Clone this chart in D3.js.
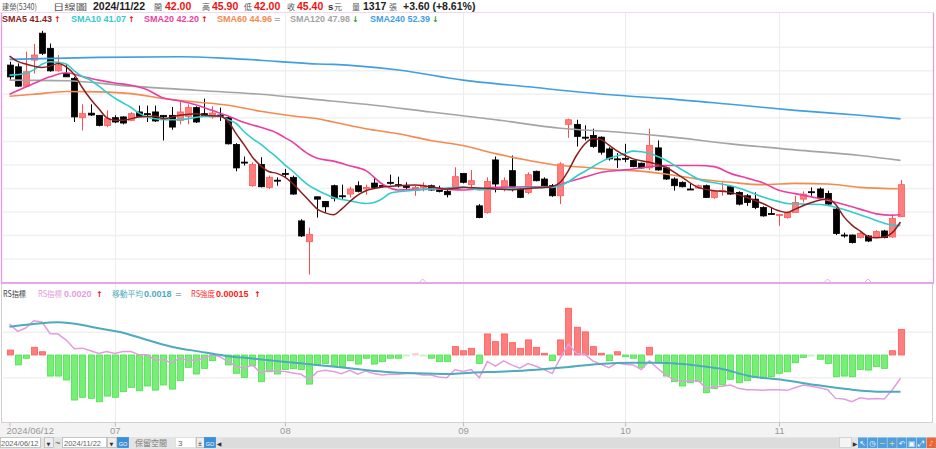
<!DOCTYPE html>
<html><head><meta charset="utf-8">
<script src="https://cdn.jsdelivr.net/npm/d3@7"></script>
<style>html,body{margin:0;padding:0;background:#fff;}svg{display:block;}</style>
</head><body>
<svg id="c" width="936" height="449"></svg>
<script>
// ---------- DATA ----------
const opens  = [58.11,57.93,55.87,58.64,61.50,59.89,57.50,57.22,56.69,52.52,53.00,52.77,51.70,52.52,52.60,52.24,53.13,52.95,53.13,52.77,52.77,52.24,52.66,53.59,52.95,52.60,52.80,52.52,49.67,47.80,45.29,47.54,45.11,45.88,46.60,46.18,41.55,39.34,44.11,43.62,45.29,44.22,44.40,45.29,44.94,45.57,45.30,45.65,45.40,45.22,44.83,45.11,45.29,44.94,44.69,44.94,46.60,45.40,43.15,42.44,48.03,44.94,46.89,44.94,44.58,46.82,46.00,45.29,44.22,51.81,51.81,50.45,50.63,50.45,49.20,48.14,48.20,47.96,47.68,47.18,49.31,47.18,46.00,45.65,44.94,45.04,45.29,44.04,44.76,45.18,44.58,44.22,43.86,42.97,42.33,42.19,41.90,42.44,43.86,44.65,44.94,44.47,42.80,40.05,40.05,39.77,39.95,39.77,40.48,39.84,42.00];
const highs  = [58.47,58.29,59.54,60.35,61.75,60.40,59.18,58.10,56.86,53.94,53.94,52.80,53.30,52.77,52.66,53.10,53.80,53.80,53.80,52.80,53.66,54.20,53.94,53.73,54.55,53.73,53.59,52.66,49.81,48.39,47.78,48.32,46.36,46.18,47.07,46.36,41.73,40.84,44.11,43.62,45.40,45.40,45.18,45.75,45.40,46.18,45.50,46.46,46.25,45.65,45.29,45.65,45.40,45.29,44.83,47.25,46.60,46.96,43.33,46.18,48.39,46.18,48.50,45.11,46.71,46.89,46.18,45.47,47.78,52.41,52.30,51.70,51.35,50.53,49.38,48.75,49.74,48.03,47.75,51.35,50.10,47.32,46.18,45.75,45.54,45.40,45.40,44.80,45.65,45.30,44.69,44.40,44.58,43.10,42.97,42.27,42.55,44.22,44.69,45.11,45.11,44.76,42.97,40.30,40.10,40.35,40.05,40.55,40.60,42.27,45.90];
const lows   = [56.51,55.80,55.80,57.22,59.18,57.40,57.40,56.86,52.06,51.17,52.70,51.60,51.52,51.95,51.81,52.17,52.60,52.06,52.06,50.10,51.24,51.81,51.81,51.95,52.60,52.41,52.17,49.67,46.82,47.43,45.18,45.11,44.94,45.29,46.18,44.33,39.84,35.85,41.90,42.44,43.62,43.86,44.04,44.58,44.33,45.04,45.10,45.40,45.11,44.94,44.22,44.69,44.76,44.58,44.04,44.83,45.54,45.11,41.83,42.33,44.58,44.69,44.69,43.97,44.40,45.75,45.11,44.11,43.33,50.38,49.46,50.10,49.31,48.60,47.96,47.18,47.78,47.25,47.10,46.96,46.89,45.90,44.76,45.11,44.83,44.97,43.97,43.90,44.22,44.33,43.20,43.15,42.80,42.00,42.19,41.02,41.80,42.44,43.50,44.22,43.97,43.15,40.05,39.77,39.15,39.70,39.30,39.70,39.70,39.77,42.00];
const closes = [56.86,55.87,57.40,59.18,59.36,57.50,58.11,56.86,52.60,52.95,52.80,51.70,52.41,52.06,51.95,52.95,52.66,52.90,52.17,52.60,51.52,53.13,53.59,52.06,52.66,53.02,52.66,49.74,47.18,47.78,47.54,45.18,46.18,45.88,46.60,44.40,39.95,40.12,43.86,43.05,43.97,44.22,44.94,44.69,45.11,45.11,45.30,45.65,45.29,45.22,45.11,45.29,44.83,44.69,44.33,46.25,45.65,45.82,41.90,45.75,45.47,45.82,45.11,44.04,46.46,45.82,45.29,44.22,47.60,52.30,50.53,50.45,49.46,48.85,48.14,48.10,48.14,47.32,47.18,49.56,46.96,46.00,45.29,45.18,44.94,45.29,44.04,44.69,44.80,44.40,43.33,43.50,42.97,42.08,42.33,42.22,42.44,43.50,44.40,44.65,44.04,43.33,40.20,40.05,39.24,40.20,39.41,40.41,39.77,41.80,45.40];

const xTickIdx    = [0,13,34,56,76,95];
const xTickLabels = ["2024/06/12","07","08","09","10","11"];
const priceGrid   = [37.5,40,42.5,45,47.5,50,52.5,55,57.5,60];

// moving averages: [candle index, value]
const sma5 = [[0,59.07],[1,58.5],[2,58.22],[3,58.0],[4,57.86],[5,58.0],[6,58.29],[7,57.93],[8,57.1],[9,55.7],[10,54.5],[11,53.5],[12,52.52],[13,52.24],[14,52.24],[16,52.6],[18,52.66],[19,52.41],[21,52.77],[23,52.95],[24,52.77],[26,52.66],[27,52.1],[28,50.8],[29,49.6],[30,48.32],[31,47.43],[32,46.8],[33,46.6],[34,46.2],[35,45.5],[36,44.6],[37,43.69],[38,42.8],[39,42.4],[40,42.2],[41,42.8],[42,43.6],[43,44.3],[44,44.76],[46,45.15],[48,45.29],[50,45.36],[52,45.18],[54,44.95],[56,45.1],[58,45.05],[60,44.95],[62,44.85],[64,45.0],[66,45.1],[67,45.2],[68,45.65],[69,46.9],[70,48.5],[71,49.7],[72,50.28],[73,50.2],[74,49.6],[75,49.0],[76,48.5],[77,48.14],[79,47.78],[81,47.25],[83,46.2],[85,45.11],[87,44.76],[89,44.58],[91,44.04],[93,43.4],[95,42.62],[96,42.44],[97,42.8],[99,43.5],[101,43.87],[102,43.3],[103,42.0],[104,41.1],[105,40.48],[106,39.9],[107,39.77],[108,39.84],[109,40.3],[110,41.43]];
const sma10 = [[0,57.04],[2,57.22],[3,57.6],[4,58.2],[5,58.47],[6,58.4],[7,58.22],[8,57.5],[9,56.9],[10,56.5],[11,55.9],[12,55.2],[13,54.6],[14,54.1],[15,53.6],[16,53.0],[17,52.6],[18,52.4],[19,52.3],[21,52.3],[23,52.55],[24,52.66],[26,52.66],[27,52.3],[28,51.9],[29,51.0],[30,50.3],[31,49.7],[32,49.0],[33,48.3],[34,47.5],[35,46.8],[36,46.0],[37,45.3],[38,44.8],[39,44.4],[40,44.04],[42,43.69],[44,43.4],[45,43.5],[46,43.9],[47,44.5],[48,44.65],[50,44.8],[52,44.94],[54,45.05],[56,45.18],[58,44.85],[60,44.94],[62,45.0],[65,45.11],[67,45.11],[69,45.7],[70,46.3],[71,46.8],[72,47.3],[73,47.8],[74,48.2],[75,48.45],[76,48.7],[77,48.96],[78,48.9],[79,48.74],[80,48.4],[81,48.03],[82,47.5],[83,47.0],[84,46.5],[85,46.0],[87,45.6],[89,45.29],[91,44.76],[93,44.1],[95,43.6],[96,43.4],[98,43.33],[100,43.3],[101,43.2],[102,43.0],[104,42.5],[106,41.9],[108,41.3],[109,41.1],[110,41.07]];
const sma20 = [[0,55.01],[3,56.15],[5,56.86],[7,57.29],[9,56.9],[11,56.51],[13,56.2],[15,55.97],[17,55.5],[19,54.6],[21,54.3],[23,53.9],[25,53.3],[27,52.7],[29,52.0],[31,51.5],[33,50.9],[34,50.4],[35,49.9],[36,49.2],[37,48.6],[38,48.2],[40,47.9],[42,47.4],[44,46.89],[46,45.47],[48,44.83],[50,44.9],[52,44.94],[54,44.9],[56,44.83],[58,44.95],[60,45.11],[62,45.15],[64,45.18],[67,45.18],[69,45.7],[71,46.2],[73,46.7],[75,46.9],[77,47.07],[79,47.3],[81,47.43],[83,47.43],[85,47.43],[87,47.32],[89,46.6],[91,46.1],[93,45.6],[95,44.8],[97,44.45],[99,44.1],[101,43.75],[103,43.3],[105,42.8],[107,42.3],[109,42.15],[110,42.2]];
const sma60 = [[0,54.8],[3,55.01],[7,55.3],[11,55.26],[15,55.08],[19,54.55],[23,54.19],[27,53.84],[31,53.2],[35,52.7],[38,52.41],[40,52.06],[44,51.35],[48,50.81],[52,50.1],[56,49.56],[60,48.7],[64,48.0],[68,47.43],[71,47.25],[75,46.96],[77,46.89],[81,46.54],[85,46.0],[89,45.65],[93,45.4],[97,45.54],[101,45.47],[105,45.11],[110,44.96]];
const sma120 = [[0,56.51],[7,56.44],[15,55.87],[23,55.44],[31,55.01],[38,54.44],[44,53.94],[52,53.12],[60,52.3],[68,51.4],[75,50.99],[81,50.53],[89,49.74],[97,49.1],[105,48.5],[110,47.98]];
const sma240 = [[0,58.72],[11,58.93],[21,59.0],[27,58.82],[33,58.5],[38,58.22],[40,58.18],[48,57.58],[56,56.51],[64,55.8],[75,54.9],[81,54.55],[89,53.94],[97,53.3],[105,52.77],[110,52.39]];

// lower panel: RS line (x1e-4), its moving average (x1e-4), strength histogram (x1e-5)
const rsLine = [28.1,27.0,27.5,28.6,28.4,26.7,26.6,25.7,24.4,24.5,24.1,23.7,24.0,23.7,24.0,24.0,23.5,23.5,22.7,22.8,22.3,23.0,22.7,22.7,23.0,23.5,23.2,22.5,21.8,21.5,22.0,20.8,21.2,21.1,21.0,20.8,20.6,19.8,21.0,21.2,21.0,20.7,21.2,20.6,21.1,20.7,20.5,20.6,20.6,20.7,20.7,20.5,20.5,20.2,20.1,21.3,21.0,21.3,20.1,22.5,21.8,22.6,22.0,21.5,22.2,21.8,21.3,20.7,23.0,25.1,23.7,23.6,22.6,22.1,21.6,22.3,22.1,22.0,21.3,22.6,21.5,20.5,19.8,19.6,19.6,19.7,18.5,18.7,18.8,19.0,18.5,18.3,18.3,18.2,18.3,18.3,18.2,18.6,19.0,18.8,18.6,18.3,17.0,16.9,16.5,17.1,16.9,17.0,16.9,18.3,20.0];
const rsMA = [[0,27.7],[3,28.1],[6,28.35],[9,27.96],[11,27.46],[14,26.81],[17,25.72],[20,24.72],[23.5,23.98],[26.6,23.38],[29.7,22.98],[33.8,22.48],[37.9,21.99],[42,21.49],[46.2,20.99],[50.3,20.74],[54.4,20.64],[57,20.84],[60.5,20.99],[64.6,21.24],[68.7,21.64],[72.8,22.14],[76.9,22.33],[79.4,22.33],[83.1,22.14],[85.2,21.84],[88.1,21.34],[91.3,20.35],[95.5,19.75],[99.6,19.0],[103.7,18.35],[107.8,18.0],[110,18.0]];
const rsHist = [2.9,-5.8,-1.9,4.5,1.9,-12.3,-12.3,-14.6,-26.3,-24.7,-25.3,-27.3,-24.0,-24.7,-21.4,-18.9,-20.9,-18.1,-20.5,-17.5,-19.9,-15.0,-7.2,-11.1,-7.8,-3.3,-0.6,-5.8,-10.7,-13.1,-6.4,-15.6,-9.8,-11.1,-8.5,-8.0,-8.5,-17.0,-5.8,-4.9,-6.8,-6.8,-3.3,-5.3,-1.9,-5.3,-3.9,-1.9,-1.9,-0.6,0.7,-0.6,-1.9,-3.9,-3.9,4.9,2.5,3.9,-4.9,12.3,7.8,12.3,7.2,3.9,8.8,4.5,1.0,-3.3,8.8,27.3,16.2,13.5,4.9,1.0,-3.3,1.9,-1.0,-1.9,-7.2,4.5,-4.5,-12.3,-15.6,-18.1,-16.2,-15.6,-22.0,-19.5,-17.5,-14.2,-16.2,-15.0,-13.1,-13.7,-12.7,-10.7,-9.8,-4.5,-1.4,-0.6,-2.5,-4.9,-12.7,-12.3,-12.7,-8.4,-8.8,-6.8,-7.8,2.5,15.0];
const lowerGrid = [-13.3, 13.3];
const markerIdx = [51, 101, 106];

// ---------- DRAW ----------
const svg = d3.select("#c");
const W = 936, H = 449;
const CJK = "'Noto Sans CJK TC','Noto Sans CJK SC',sans-serif";
const LAT = "'Liberation Sans',Arial,sans-serif";
const DJ = "'DejaVu Sans',sans-serif";

const x  = d3.scaleLinear().domain([0,110]).range([9.5,900.5]);
const y  = d3.scaleLinear().domain([37.5,60]).range([259,47.3]);
const yH = d3.scaleLinear().domain([0,15]).range([355,329.3]);
const yL = d3.scaleLinear().domain([18,20]).range([391.7,378.3]);

svg.append("rect").attr("width",W).attr("height",H).attr("fill","#fff");
svg.append("rect").attr("x",0).attr("y",423).attr("width",W).attr("height",26).attr("fill","#f3f3f3");

const defs = svg.append("defs");
defs.append("clipPath").attr("id","cp1").append("rect").attr("x",2).attr("y",13).attr("width",931).attr("height",270);
defs.append("clipPath").attr("id","cp2").append("rect").attr("x",2).attr("y",284).attr("width",930).attr("height",139);

// grid
const grid = svg.append("g");
grid.selectAll("line.h").data(priceGrid).join("line")
  .attr("x1",3).attr("x2",933).attr("y1",d=>y(d)).attr("y2",d=>y(d))
  .attr("stroke","#f0f0f0").attr("stroke-width",1.5);
grid.selectAll("line.lh").data(lowerGrid).join("line")
  .attr("x1",3).attr("x2",932).attr("y1",d=>yH(d)).attr("y2",d=>yH(d))
  .attr("stroke","#f0f0f0").attr("stroke-width",1.5);
grid.selectAll("line.v").data(xTickIdx.slice(1)).join("line")
  .attr("x1",d=>Math.round(x(d))+0.5).attr("x2",d=>Math.round(x(d))+0.5).attr("y1",13).attr("y2",423)
  .attr("stroke","#ececec").attr("stroke-width",1);

// candles
const candles = d3.range(opens.length).map(i=>({i,o:opens[i],h:highs[i],l:lows[i],c:closes[i]}));
const up = d=>d.c>d.o;
const cg = svg.append("g").attr("clip-path","url(#cp1)");
cg.selectAll("line.w").data(candles).join("line")
  .attr("x1",d=>Math.round(x(d.i))+0.5).attr("x2",d=>Math.round(x(d.i))+0.5)
  .attr("y1",d=>y(d.h)).attr("y2",d=>y(d.l))
  .attr("stroke",d=>up(d)?"#ff4a4a":"#000").attr("stroke-width",1);
cg.selectAll("rect.b").data(candles).join("rect")
  .attr("x",d=>Math.round(x(d.i))-2.5).attr("width",6)
  .attr("y",d=>y(Math.max(d.o,d.c)))
  .attr("height",d=>Math.max(1,Math.abs(y(d.o)-y(d.c))))
  .attr("fill",d=>up(d)?"#ff7d7d":"#000")
  .attr("stroke",d=>up(d)?"#ff5a5a":"#000").attr("stroke-width",0.8);

// SMA lines
const lineGen = d3.line().x(d=>x(d[0])).y(d=>y(d[1])).curve(d3.curveMonotoneX);
const smaDefs = [
  {data:sma240,color:"#3f9fe2",w:1.6},
  {data:sma120,color:"#a4a4a4",w:1.6},
  {data:sma60,color:"#f58a4f",w:1.6},
  {data:sma20,color:"#ea3fa0",w:1.6},
  {data:sma10,color:"#33cccc",w:1.6},
  {data:sma5,color:"#8a1f1f",w:1.5}
];
const lg = svg.append("g").attr("clip-path","url(#cp1)");
smaDefs.forEach(s=>{
  lg.append("path").attr("d",lineGen(s.data)).attr("fill","none")
    .attr("stroke",s.color).attr("stroke-width",s.w).attr("stroke-linejoin","round");
});

// lower panel histogram
const hg = svg.append("g").attr("clip-path","url(#cp2)");
hg.selectAll("rect").data(rsHist.map((v,i)=>({i,v}))).join("rect")
  .attr("x",d=>Math.round(x(d.i))-2.5).attr("width",6)
  .attr("y",d=>Math.min(yH(d.v),yH(0)))
  .attr("height",d=>Math.max(0.8,Math.abs(yH(d.v)-yH(0))))
  .attr("fill",d=>d.v>0?"#ff7d7d":"#74f074")
  .attr("stroke",d=>d.v>0?"#ff5a5a":"#4fe04f").attr("stroke-width",0.8)
  .attr("opacity",d=>Math.abs(d.v)<0.8?0.35:1);
const rsGen = d3.line().x((d,i)=>x(i)).y(d=>yL(d));
hg.append("path").attr("d",rsGen(rsLine)).attr("fill","none").attr("stroke","#e29ce0").attr("stroke-width",1.5);
const maGen = d3.line().x(d=>x(d[0])).y(d=>yL(d[1])).curve(d3.curveMonotoneX);
hg.append("path").attr("d",maGen(rsMA)).attr("fill","none").attr("stroke","#4eaabd").attr("stroke-width",2);

// borders
svg.append("line").attr("x1",0).attr("x2",934).attr("y1",12.5).attr("y2",12.5).attr("stroke","#f2d6f2").attr("stroke-width",1);
svg.append("line").attr("x1",1.5).attr("x2",1.5).attr("y1",13).attr("y2",283).attr("stroke","#e39ce3").attr("stroke-width",1.3);
svg.append("line").attr("x1",933.5).attr("x2",933.5).attr("y1",13).attr("y2",283).attr("stroke","#e39ce3").attr("stroke-width",1.3);
svg.append("line").attr("x1",1.5).attr("x2",1.5).attr("y1",283).attr("y2",423).attr("stroke","#cfcfcf").attr("stroke-width",1);
svg.append("line").attr("x1",932.5).attr("x2",932.5).attr("y1",283).attr("y2",423).attr("stroke","#cfcfcf").attr("stroke-width",1);
svg.append("line").attr("x1",1).attr("x2",934).attr("y1",283).attr("y2",283).attr("stroke","#e8a6e8").attr("stroke-width",2);
svg.selectAll("path.mk").data(markerIdx).join("path")
  .attr("d",d=>`M${x(d)-4},283 L${x(d)},279 L${x(d)+4},283`).attr("fill","none").attr("stroke","#e8a6e8").attr("stroke-width",1);

// x axis
svg.append("line").attr("x1",1).attr("x2",933).attr("y1",422.5).attr("y2",422.5).attr("stroke","#d8d0d0").attr("stroke-width",1.2);
const axisG = svg.append("g").attr("transform","translate(0,422.5)");
const xAxis = d3.axisBottom(x).tickValues(xTickIdx).tickFormat((d,i)=>xTickLabels[i]).tickSize(4).tickSizeOuter(0);
axisG.call(xAxis);
axisG.select(".domain").remove();
axisG.selectAll(".tick line").attr("stroke","#bbb");
axisG.selectAll(".tick text").attr("fill","#999").attr("font-family",LAT).attr("font-size",9.5).attr("dy","0.5em");
axisG.selectAll(".tick text").filter((d,i)=>i===0).attr("text-anchor","start").attr("dx",-3.5);

// text helper
const head = svg.append("g");
function t(xp,yp,txt,opt){
  const e = head.append("text").attr("x",xp).attr("y",yp).text(txt)
    .attr("font-family",opt.f||LAT).attr("font-size",opt.s||9).attr("fill",opt.c||"#333")
    .attr("font-weight",opt.b?"bold":"normal");
  if(opt.w) e.attr("textLength",opt.w).attr("lengthAdjust","spacingAndGlyphs");
  return e;
}
// header
const HB = 10.2;
t(2,HB,"建榮(5340)",{f:CJK,s:8.5,c:"#555",w:35});
t(53,HB,"日線圖",{f:CJK,s:8.5,c:"#555",w:34});
t(93,HB,"2024/11/22",{s:10.5,b:true,c:"#222"});
t(154,HB,"開",{f:CJK,s:8,c:"#555"});
t(165,HB,"42.00",{s:10.5,b:true,c:"#ee1111"});
t(202,HB,"高",{f:CJK,s:8,c:"#555"});
t(212,HB,"45.90",{s:10.5,b:true,c:"#ee1111"});
t(244,HB,"低",{f:CJK,s:8,c:"#555"});
t(254,HB,"42.00",{s:10.5,b:true,c:"#ee1111"});
t(287,HB,"收",{f:CJK,s:8,c:"#555"});
t(297,HB,"45.40",{s:10.5,b:true,c:"#ee1111"});
t(328,HB,"s",{s:9.5,b:true,c:"#333"});
t(334,HB,"元",{f:CJK,s:8,c:"#555"});
t(352,HB,"量",{f:CJK,s:8,c:"#555"});
t(363,HB,"1317",{s:10.5,b:true,c:"#222"});
t(389,HB,"張",{f:CJK,s:8,c:"#555"});
t(403,HB,"+3.60 (+8.61%)",{s:10.5,b:true,c:"#222"});

// SMA legend
const smaLegend = [
  {x:2,txt:"SMA5 41.43",c:"#8a1f1f",sym:"↑",sc:"#e01010"},
  {x:71,txt:"SMA10 41.07",c:"#33cccc",sym:"↑",sc:"#e01010"},
  {x:144,txt:"SMA20 42.20",c:"#ea3fa0",sym:"↑",sc:"#e01010"},
  {x:217,txt:"SMA60 44.96",c:"#f58a4f",sym:"=",sc:"#aaa"},
  {x:290,txt:"SMA120 47.98",c:"#a4a4a4",sym:"↓",sc:"#1a9a1a"},
  {x:370,txt:"SMA240 52.39",c:"#3f9fe2",sym:"↓",sc:"#1a9a1a"}
];
const LB = 22;
smaLegend.forEach(l=>{
  const e = t(l.x,LB,l.txt,{s:9,b:true,c:l.c});
  const w = e.node().getComputedTextLength();
  t(l.x+w+2,LB,l.sym,{f:DJ,s:8,b:true,c:l.sc});
});

// lower legend
const BB = 297;
t(3,BB,"RS指標",{f:CJK,s:8.5,c:"#444",w:23});
t(38,BB,"RS指標",{f:CJK,s:8.5,c:"#e29ce0",w:24});
t(64,BB,"0.0020",{s:9,b:true,c:"#e29ce0"});
t(96,BB,"↑",{f:DJ,s:8,b:true,c:"#e01010"});
t(112,BB,"移動平均",{f:CJK,s:8.5,c:"#4eaabd",w:31});
t(144,BB,"0.0018",{s:9,b:true,c:"#4eaabd"});
t(175,BB,"=",{f:DJ,s:8,b:true,c:"#aaa"});
t(191,BB,"RS強度",{f:CJK,s:8.5,c:"#ff3030",w:24});
t(216,BB,"0.00015",{s:9,b:true,c:"#ff2020"});
t(254,BB,"↑",{f:DJ,s:8,b:true,c:"#e01010"});

// toolbar
const tb = svg.append("g");
tb.append("rect").attr("x",0).attr("y",437).attr("width",W).attr("height",12).attr("fill","#e4e4e4");
tb.append("rect").attr("x",222).attr("y",438).attr("width",617).attr("height",10).attr("fill","#dcdcdc");
function box(x0,w,fill,stroke){tb.append("rect").attr("x",x0+0.5).attr("y",437.5).attr("width",w).attr("height",10).attr("fill",fill).attr("stroke",stroke||"#bbb").attr("stroke-width",0.8);}
function tt(x0,txt,opt){tb.append("text").attr("x",x0).attr("y",446).text(txt).attr("font-family",opt.f||LAT).attr("font-size",opt.s||8).attr("fill",opt.c||"#555").attr("text-anchor",opt.a||"start");}
box(0,40,"#fff"); tt(1,"2024/06/12",{s:7.5,c:"#666"});
box(44,9,"#eee"); tt(48.5,"▼",{s:5,a:"middle",c:"#333",f:DJ});
tt(55,"~",{s:9,c:"#555"});
box(62,44,"#fff"); tt(64,"2024/11/22",{s:7.5,c:"#666"});
box(107,9,"#eee"); tt(111.5,"▼",{s:5,a:"middle",c:"#333",f:DJ});
box(117,11,"#3a8fd6","#3a8fd6"); tt(123,"GO",{s:5.5,a:"middle",c:"#fff"});
tt(135,"保留空間",{f:CJK,s:8,c:"#777"});
box(175,20,"#fff","#ddd"); tt(178,"3",{s:8,c:"#666"});
box(196,8,"#eee"); tt(200,"±",{s:7,a:"middle",c:"#333"});
box(204,11,"#3a8fd6","#3a8fd6"); tt(210,"GO",{s:5.5,a:"middle",c:"#fff"});
tt(219,"◀",{s:6,a:"middle",c:"#333",f:DJ});
box(839,12,"#f4f4f4","#ccc");
tt(855,"▶",{s:6,a:"middle",c:"#333",f:DJ});
const icons = ["↖","◷","−","+","↶","▣","⤢","♪"];
icons.forEach((g,i)=>{
  const x0 = 858 + i*9.8;
  tb.append("rect").attr("x",x0).attr("y",437.5).attr("width",9.3).attr("height",10.5)
    .attr("fill",i===7?"#e8643a":"#4d9fe0");
  tb.append("text").attr("x",x0+4.6).attr("y",446).attr("text-anchor","middle")
    .attr("font-family",DJ).attr("font-size",7.5)
    .attr("fill",(i===2||i===3)?"#f6e04a":(i===7?"#ffd84a":"#fff")).text(g);
});
</script>
</body></html>
